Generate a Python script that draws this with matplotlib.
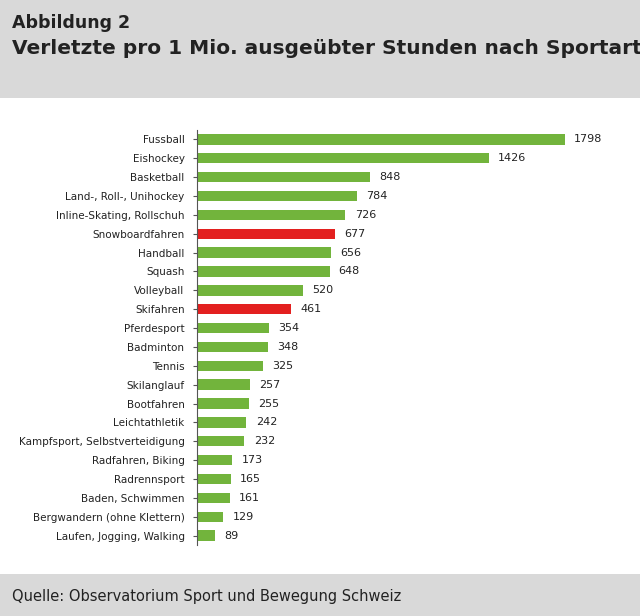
import matplotlib
matplotlib.use("Agg")
import matplotlib.pyplot as plt
from matplotlib.patches import Rectangle

sports = ["Fussball", "Eishockey", "Basketball", "Land-, Roll-, Unihockey",
          "Inline-Skating, Rollschuh", "Snowboardfahren", "Handball", "Squash",
          "Volleyball", "Skifahren", "Pferdesport", "Badminton", "Tennis",
          "Skilanglauf", "Bootfahren", "Leichtathletik",
          "Kampfsport, Selbstverteidigung", "Radfahren, Biking", "Radrennsport",
          "Baden, Schwimmen", "Bergwandern (ohne Klettern)",
          "Laufen, Jogging, Walking"]
injured = [1798, 1426, 848, 784, 726, 677, 656, 648, 520, 461, 354, 348, 325,
           257, 255, 242, 232, 173, 165, 161, 129, 89]
highlight = ["Snowboardfahren", "Skifahren"]

green = "#72b43c"
red = "#e3201f"
grey = "#d9d9d9"

fig = plt.figure(figsize=(6.4, 6.16), dpi=100)
fig.patch.set_facecolor("white")
# header and footer bands
fig.patches.append(Rectangle((0, 1 - 98 / 616), 1, 98 / 616, transform=fig.transFigure,
                             facecolor=grey, edgecolor="none", zorder=-1))
fig.patches.append(Rectangle((0, 0), 1, 42 / 616, transform=fig.transFigure,
                             facecolor=grey, edgecolor="none", zorder=-1))

fig.text(0.018, 0.963, "Abbildung 2", fontsize=12.5, va="center", color="#222222",
         family="Liberation Sans Narrow", fontweight="bold")
fig.text(0.018, 0.921, "Verletzte pro 1 Mio. ausgeübter Stunden nach Sportart, 2008",
         fontsize=14.5, va="center", color="#222222",
         family="Liberation Sans Narrow", fontweight="bold")
fig.text(0.018, 0.032, "Quelle: Observatorium Sport und Bewegung Schweiz",
         fontsize=10.5, va="center", color="#222222")

ax = fig.add_axes([197 / 640, 71 / 616, 409 / 640, 415 / 616])
pos = list(range(len(sports)))
colors = [red if s in highlight else green for s in sports]
ax.barh(pos, injured, height=0.55, color=colors)
for p, v in zip(pos, injured):
    ax.text(v + 45, p, str(v), va="center", ha="left", fontsize=8, color="#222222")

ax.set_xlim(0, 2000)
ax.set_ylim(len(sports) - 0.5, -0.5)
ax.set_yticks(pos)
ax.set_yticklabels(sports, fontsize=7.5, color="#222222")
ax.tick_params(axis="y", length=3, color="#555555", pad=6)
ax.set_xticks([])
for side in ["top", "right", "bottom"]:
    ax.spines[side].set_visible(False)
ax.spines["left"].set_color("#555555")

fig.savefig("out.png", dpi=100)
